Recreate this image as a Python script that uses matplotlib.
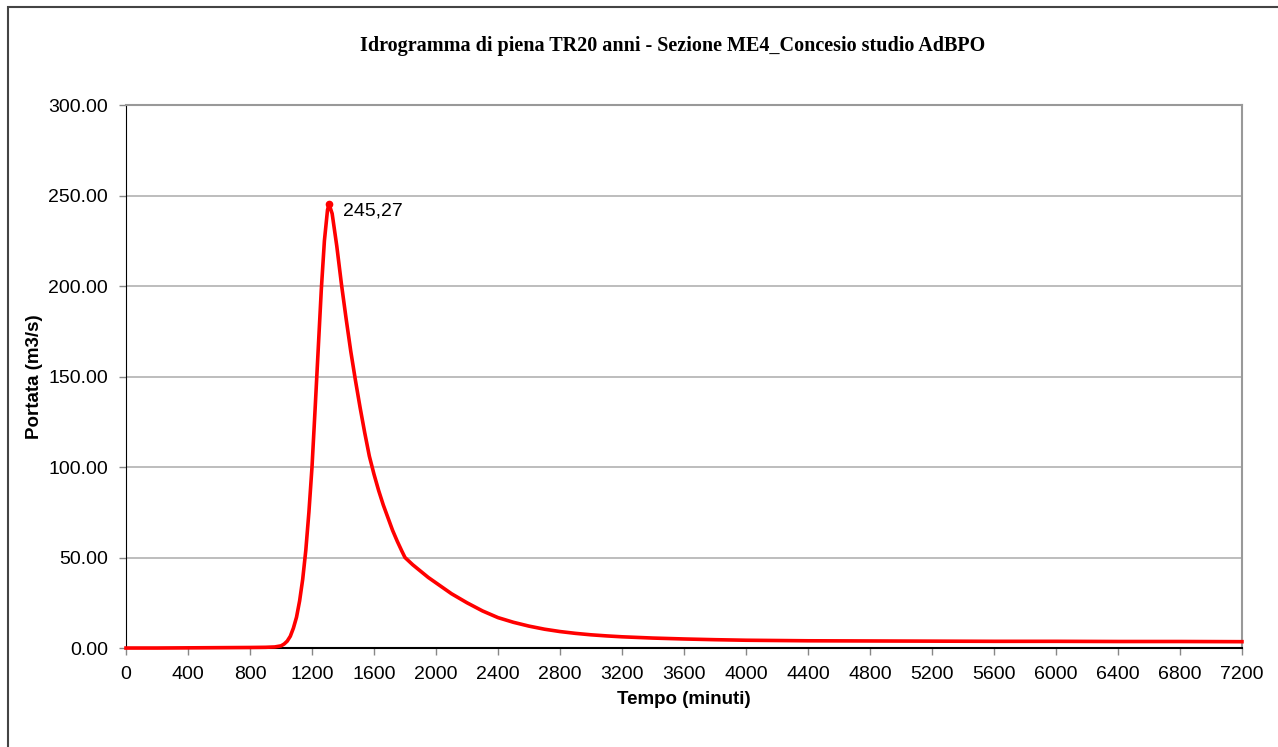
import matplotlib.pyplot as plt
from matplotlib.patches import Rectangle

# idrogramma (minuti, m3/s)
tempo = [0, 200, 400, 600, 800, 900, 960, 1000, 1020, 1040, 1060, 1080, 1100,
         1120, 1140, 1160, 1180, 1200, 1220, 1240, 1260, 1280, 1300, 1310,
         1330, 1360, 1390, 1420, 1450, 1480, 1510, 1540, 1570, 1600,
         1630, 1660, 1690, 1720, 1750, 1780, 1800, 1850, 1900, 1950, 2000,
         2100, 2200, 2300, 2400, 2500, 2600, 2700, 2800, 2900, 3000, 3100,
         3200, 3400, 3600, 3800, 4000, 4400, 4800, 5200, 5600, 6000, 6400,
         6800, 7200]
portata = [0.0, 0.0, 0.1, 0.2, 0.3, 0.4, 0.6, 1.2, 2.2, 3.8, 6.5, 11, 17,
           26, 38, 54, 75, 100, 132, 165, 198, 225, 242, 245.27,
           240, 222, 201, 182, 164, 148, 133, 119, 106, 96,
           87, 79, 72, 65, 59, 53.5, 50, 46, 42.5, 39, 36,
           30, 25, 20.5, 16.8, 14.2, 12.1, 10.4, 9.1, 8.1, 7.3, 6.7,
           6.2, 5.5, 5.0, 4.6, 4.3, 4.0, 3.9, 3.8, 3.7, 3.7, 3.6,
           3.6, 3.5]

picco_t = 1310
picco_q = 245.27

yticks = [0, 50, 100, 150, 200, 250, 300]
xticks = list(range(0, 7201, 400))

plt.rcParams['font.family'] = ['Liberation Sans', 'DejaVu Sans']

fig = plt.figure(figsize=(12.78, 7.47), dpi=100)
ax = fig.add_axes([0.0986, 0.1325, 0.8732, 0.7269])

ax.plot(tempo, portata, color='#ff0000', lw=2.6, zorder=3, clip_on=False)
ax.plot([picco_t], [picco_q], 'o', color='#ff0000', ms=4.5, zorder=4)
ax.annotate('245,27', xy=(picco_t, picco_q), xytext=(10, -5),
            textcoords='offset points', va='center', ha='left', fontsize=14)

ax.set_xlim(0, 7200)
ax.set_ylim(0, 300)
ax.set_xticks(xticks)
ax.set_yticks(yticks)
ax.set_yticklabels(['%.2f' % v for v in yticks])
ax.tick_params(axis='both', labelsize=14, length=5, width=1, color='#888888',
               direction='out')
ax.tick_params(axis='y', pad=8)
ax.tick_params(axis='x', pad=8)

ax.grid(axis='y', color='#b8b8b8', lw=1.3)
ax.set_axisbelow(True)

ax.spines['left'].set_color('black')
ax.spines['bottom'].set_color('black')
ax.spines['bottom'].set_linewidth(1.5)
ax.spines['top'].set_color('#999999')
ax.spines['right'].set_color('#999999')
ax.spines['top'].set_linewidth(1.5)
ax.spines['right'].set_linewidth(1.5)

ax.set_xlabel('Tempo (minuti)', fontsize=13.5, fontweight='bold', labelpad=6)
ax.set_ylabel('Portata (m3/s)', fontsize=13.5, fontweight='bold', labelpad=4)

fig.text(0.526, 0.938,
         'Idrogramma di piena TR20 anni - Sezione ME4_Concesio studio AdBPO',
         family=['Liberation Serif', 'DejaVu Serif'], fontweight='bold',
         fontsize=14.5, ha='center', va='center')

fig.patches.append(Rectangle((8 / 1278, -0.1), 1.2, 0.9906 + 0.1,
                             transform=fig.transFigure, fill=False,
                             edgecolor='#444444', lw=1.5, clip_on=False))

fig.savefig('out.png', dpi=100)
